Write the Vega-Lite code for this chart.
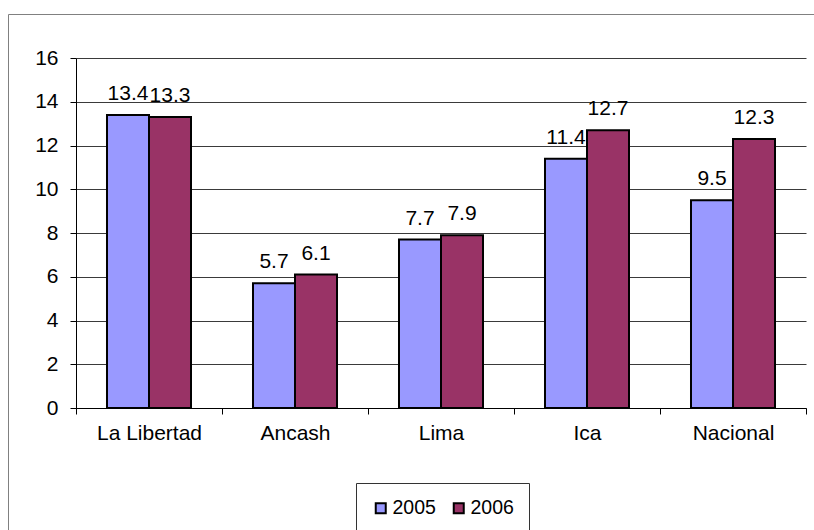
{
  "$schema": "https://vega.github.io/schema/vega-lite/v6.json",
  "autosize": {"type": "none"},
  "width": 810,
  "height": 530,
  "padding": {"left": 8, "top": 14, "right": -4, "bottom": -14},
  "background": "white",
  "config": {
    "font": "Liberation Sans",
    "view": {"stroke": "#808080", "strokeWidth": 1},
    "axis": {"labelColor": "#000", "labelFontSize": 21, "labelFont": "Liberation Sans", "domainColor": "#000", "tickColor": "#000", "title": null}
  },
  "data": {
    "values": [
      {"region": "La Libertad", "year": "2005", "value": 13.4},
      {"region": "La Libertad", "year": "2006", "value": 13.3},
      {"region": "Ancash", "year": "2005", "value": 5.7},
      {"region": "Ancash", "year": "2006", "value": 6.1},
      {"region": "Lima", "year": "2005", "value": 7.7},
      {"region": "Lima", "year": "2006", "value": 7.9},
      {"region": "Ica", "year": "2005", "value": 11.4},
      {"region": "Ica", "year": "2006", "value": 12.7},
      {"region": "Nacional", "year": "2005", "value": 9.5},
      {"region": "Nacional", "year": "2006", "value": 12.3}
    ]
  },
  "encoding": {
    "x": {
      "field": "region",
      "type": "nominal",
      "sort": ["La Libertad", "Ancash", "Lima", "Ica", "Nacional"],
      "scale": {"range": [68, 798], "paddingInner": 0, "paddingOuter": 0},
      "axis": {"orient": "bottom", "offset": -136, "labelAngle": 0, "tickBand": "extent", "tickSize": 6, "labelPadding": 8, "grid": false, "domainWidth": 1}
    },
    "xOffset": {
      "field": "year",
      "type": "nominal",
      "scale": {"paddingInner": 0, "paddingOuter": 0.738}
    },
    "y": {
      "field": "value",
      "type": "quantitative",
      "scale": {"domain": [0, 16], "range": [394, 44], "nice": false},
      "axis": {"orient": "left", "offset": -68, "values": [0, 2, 4, 6, 8, 10, 12, 14, 16], "grid": true, "gridColor": "#3a3a3a", "gridWidth": 1, "tickSize": 6, "labelPadding": 12, "domainWidth": 1}
    }
  },
  "layer": [
    {
      "mark": {"type": "bar", "stroke": "#000", "strokeWidth": 2},
      "encoding": {
        "color": {
          "field": "year",
          "type": "nominal",
          "scale": {"domain": ["2005", "2006"], "range": ["#9999FF", "#993366"]},
          "legend": {
            "orient": "none",
            "legendX": 348,
            "legendY": 469,
            "direction": "horizontal",
            "title": null,
            "strokeColor": "#333",
            "padding": 15,
            "symbolType": "square",
            "symbolSize": 100,
            "symbolStrokeColor": "#000",
            "symbolStrokeWidth": 2,
            "symbolOpacity": 1,
            "labelFontSize": 19.5,
            "labelColor": "#000",
            "labelOffset": 2,
            "columnPadding": 13
          }
        }
      }
    },
    {
      "mark": {"type": "text", "baseline": "alphabetic", "dy": -15, "fontSize": 21, "color": "#000"},
      "encoding": {
        "text": {"field": "value", "type": "quantitative", "format": ".1f"}
      }
    }
  ]
}
